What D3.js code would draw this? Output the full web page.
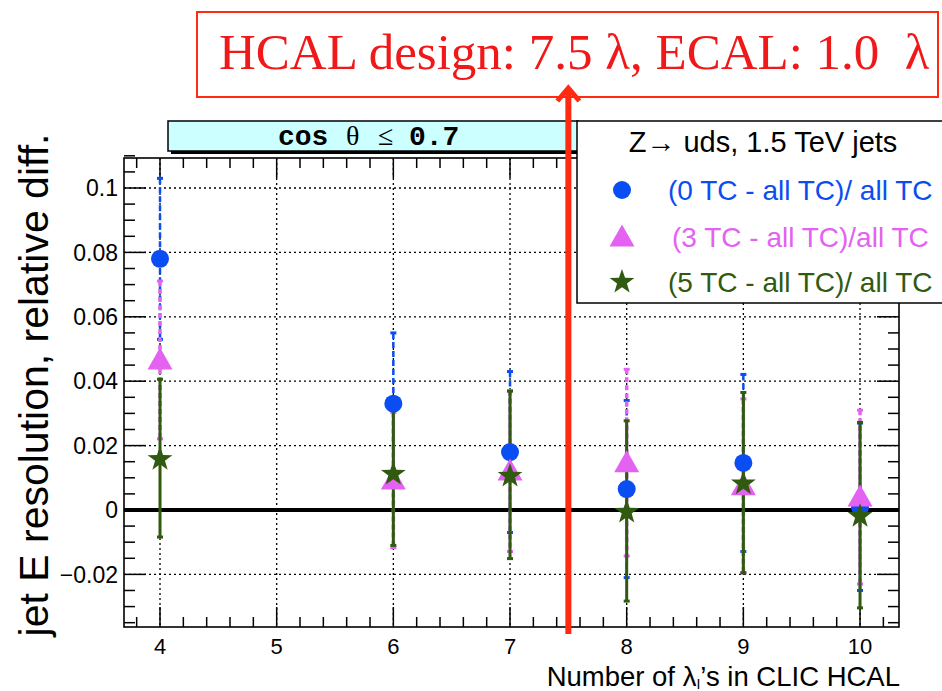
<!DOCTYPE html>
<html><head><meta charset="utf-8">
<script src="https://cdn.jsdelivr.net/npm/d3@7"></script>
<style>html,body{margin:0;padding:0;background:#fff;overflow:hidden;}svg{display:block;}</style>
</head><body>
<svg id="c" width="942" height="691"></svg>
<script>
// ---- data ----
const xCats = [4, 6, 7, 8, 9, 10];
const blueVals = [0.078, 0.033, 0.018, 0.0065, 0.0146, 0.001];
const blueErr  = [0.025, 0.022, 0.025, 0.0275, 0.0275, 0.026];
const magVals  = [0.0466, 0.0093, 0.0121, 0.0147, 0.0075, 0.004];
const magErr   = [0.0245, 0.021, 0.025, 0.029, 0.027, 0.027];
const grnVals  = [0.0161, 0.0115, 0.0109, -0.0003, 0.0085, -0.0016];
const grnErr   = [0.0245, 0.0225, 0.026, 0.028, 0.028, 0.0288];
const xTickLabels = [4, 5, 6, 7, 8, 9, 10];
const yTickLabels = [-0.02, 0, 0.02, 0.04, 0.06, 0.08, 0.1];
const legendLabels = ["(0 TC - all TC)/ all TC", "(3 TC - all TC)/all TC", "(5 TC - all TC)/ all TC"];
const legendHeader = "Z\u2192 uds, 1.5 TeV jets";
const titleText = ["cos", "\u03b8", "\u2264", "0.7"];
const designX = 7.5;

const svg = d3.select("#c");
const L = 124, R = 899, T = 158, B = 627;
const x = d3.scaleLinear().domain([3.6914, 10.334]).range([L, R]);
const y = d3.scaleLinear().domain([-0.03634, 0.10932]).range([B, T]);

const BLUE = "#0a4df2", MAG = "#e462f2", GRN = "#2f5a10", RED = "#ff2a10";
const SANS = "Liberation Sans, Arial, sans-serif";

// grid
const g = svg.append("g");
g.selectAll("line.gx").data(xTickLabels).enter().append("line")
  .attr("x1", d => x(d)).attr("x2", d => x(d)).attr("y1", T).attr("y2", B)
  .attr("stroke", "#000").attr("stroke-width", 1.3).attr("stroke-dasharray", "2,3");
g.selectAll("line.gy").data(yTickLabels.filter(d => d !== 0)).enter().append("line")
  .attr("x1", L).attr("x2", R).attr("y1", d => y(d)).attr("y2", d => y(d))
  .attr("stroke", "#000").attr("stroke-width", 1.3).attr("stroke-dasharray", "2,3");

// ticks
const yMinor = d3.range(-0.035, 0.1101, 0.005).map(v => +v.toFixed(3));
const xMinor = d3.range(3.8, 10.31, 0.2).map(v => +v.toFixed(1));
const isMajY = v => Math.abs(Math.round(v / 0.02) * 0.02 - v) < 1e-6;
const isMajX = v => Math.abs(Math.round(v) - v) < 1e-6;
yMinor.forEach(v => {
  const len = isMajY(v) ? 22 : 11;
  g.append("line").attr("x1", L).attr("x2", L + len).attr("y1", y(v)).attr("y2", y(v)).attr("stroke", "#000").attr("stroke-width", 1.5);
  g.append("line").attr("x1", R).attr("x2", R - len).attr("y1", y(v)).attr("y2", y(v)).attr("stroke", "#000").attr("stroke-width", 1.5);
});
xMinor.forEach(v => {
  const len = isMajX(v) ? 20 : 10;
  g.append("line").attr("x1", x(v)).attr("x2", x(v)).attr("y1", B).attr("y2", B - len).attr("stroke", "#000").attr("stroke-width", 1.5);
  g.append("line").attr("x1", x(v)).attr("x2", x(v)).attr("y1", T).attr("y2", T + len).attr("stroke", "#000").attr("stroke-width", 1.5);
});

// frame
svg.append("rect").attr("x", L).attr("y", T).attr("width", R - L).attr("height", B - T)
  .attr("fill", "none").attr("stroke", "#000").attr("stroke-width", 1.6);

// zero line
svg.append("line").attr("x1", L).attr("x2", R).attr("y1", y(0)).attr("y2", y(0))
  .attr("stroke", "#000").attr("stroke-width", 4);

// tick labels
svg.selectAll("text.yl").data(yTickLabels).enter().append("text")
  .attr("x", 118).attr("y", d => y(d)).attr("dy", "0.36em").attr("text-anchor", "end")
  .attr("font-family", SANS).attr("font-size", 23)
  .text(d => d3.format("")(d));
svg.selectAll("text.xl").data(xTickLabels).enter().append("text")
  .attr("x", d => x(d)).attr("y", 654).attr("text-anchor", "middle")
  .attr("font-family", SANS).attr("font-size", 22)
  .text(d => d);

// axis titles
svg.append("text").attr("transform", "translate(48,385) rotate(-90)").attr("text-anchor", "middle")
  .attr("font-family", SANS).attr("font-size", 41)
  .text("jet E resolution, relative diff.");
const xt = svg.append("text").attr("x", 900).attr("y", 686).attr("text-anchor", "end")
  .attr("font-family", SANS).attr("font-size", 27.5);
xt.append("tspan").text("Number of \u03bb");
xt.append("tspan").attr("font-size", 14).attr("dy", 3).text("I");
xt.append("tspan").attr("dy", -3).text("\u2019s in CLIC HCAL");

// series
function starPath(r1, r2) {
  const pts = [];
  for (let i = 0; i < 10; i++) {
    const a = -Math.PI / 2 + i * Math.PI / 5;
    const r = i % 2 === 0 ? r1 : r2;
    pts.push([r * Math.cos(a), r * Math.sin(a)]);
  }
  return "M" + pts.map(p => p[0].toFixed(2) + "," + p[1].toFixed(2)).join("L") + "Z";
}
const triPath = "M0,-12.5L12.5,9.5L-12.5,9.5Z";
const series = [
  { vals: blueVals, errs: blueErr, color: BLUE, dash: "6,3", w: 2.5, marker: "circle" },
  { vals: magVals, errs: magErr, color: MAG, dash: "5,3", w: 3.5, marker: "tri" },
  { vals: grnVals, errs: grnErr, color: GRN, dash: null, w: 3, marker: "star" }
];
const dg = svg.append("g");
series.forEach(s => {
  const gg = dg.append("g");
  xCats.forEach((c, i) => {
    const v = s.vals[i], e = s.errs[i];
    const ln = gg.append("line").attr("x1", x(c)).attr("x2", x(c)).attr("y1", y(v + e)).attr("y2", y(v - e))
      .attr("stroke", s.color).attr("stroke-width", s.w);
    if (s.dash) ln.attr("stroke-dasharray", s.dash);
    [v + e, v - e].forEach(t => gg.append("line").attr("x1", x(c) - 3).attr("x2", x(c) + 3)
      .attr("y1", y(t)).attr("y2", y(t)).attr("stroke", s.color).attr("stroke-width", 3));
  });
});
series.forEach(s => {
  xCats.forEach((c, i) => {
    const v = s.vals[i];
    if (s.marker === "circle") dg.append("circle").attr("cx", x(c)).attr("cy", y(v)).attr("r", 9).attr("fill", s.color);
    else if (s.marker === "tri") dg.append("path").attr("d", triPath).attr("transform", `translate(${x(c)},${y(v)})`).attr("fill", s.color);
    else dg.append("path").attr("d", starPath(13, 5.2)).attr("transform", `translate(${x(c)},${y(v) + 1})`).attr("fill", s.color);
  });
});

// title pave
svg.append("rect").attr("x", 171).attr("y", 124).attr("width", 410).attr("height", 30).attr("fill", "#000");
svg.append("rect").attr("x", 168).attr("y", 121).attr("width", 410).attr("height", 30).attr("fill", "#ccffff").attr("stroke", "#000").attr("stroke-width", 1.5);
const MONO = "Liberation Mono, Courier New, monospace";
const titleX = [278, 346, 378, 409];
const titleFont = [MONO, "Liberation Serif, serif", "Liberation Serif, serif", MONO];
titleText.forEach((t, i) => {
  svg.append("text").attr("x", titleX[i]).attr("y", 145).attr("font-size", 28)
    .attr("font-family", titleFont[i]).attr("font-weight", titleFont[i] === MONO ? "bold" : "normal").text(t);
});

// legend
svg.append("rect").attr("x", 577).attr("y", 121).attr("width", 400).attr("height", 182).attr("fill", "#fff").attr("stroke", "#000").attr("stroke-width", 1.5);
svg.append("text").attr("x", 763).attr("y", 152).attr("text-anchor", "middle")
  .attr("font-family", SANS).attr("font-size", 29).text(legendHeader);
const legY = [190, 237, 282];
const legX = [668, 672, 668];
const legCol = [BLUE, MAG, GRN];
svg.append("circle").attr("cx", 622).attr("cy", legY[0]).attr("r", 9).attr("fill", BLUE);
svg.append("path").attr("d", triPath).attr("transform", `translate(622,${legY[1]})`).attr("fill", MAG);
svg.append("path").attr("d", starPath(13, 5.2)).attr("transform", `translate(622,${legY[2]})`).attr("fill", GRN);
legendLabels.forEach((t, i) => {
  svg.append("text").attr("x", legX[i]).attr("y", legY[i]).attr("dy", "0.36em")
    .attr("font-family", SANS).attr("font-size", 28).attr("fill", legCol[i]).text(t);
});

// red annotation
svg.append("rect").attr("x", 197).attr("y", 12).attr("width", 741).attr("height", 85)
  .attr("fill", "#fff").attr("stroke", RED).attr("stroke-width", 2);
svg.append("text").attr("x", 219).attr("y", 69).attr("font-family", "Liberation Serif, serif")
  .attr("font-size", 51).attr("fill", "#f01818").text("HCAL design: 7.5 \u03bb, ECAL: 1.0 \u00a0\u03bb");
const ax = x(designX);
svg.append("line").attr("x1", ax).attr("x2", ax).attr("y1", 634).attr("y2", 90).attr("stroke", RED).attr("stroke-width", 6);
svg.append("path").attr("d", `M${ax - 11},${101}L${ax},${88}L${ax + 11},${101}`).attr("fill", "none").attr("stroke", RED).attr("stroke-width", 5);
</script>
</body></html>
